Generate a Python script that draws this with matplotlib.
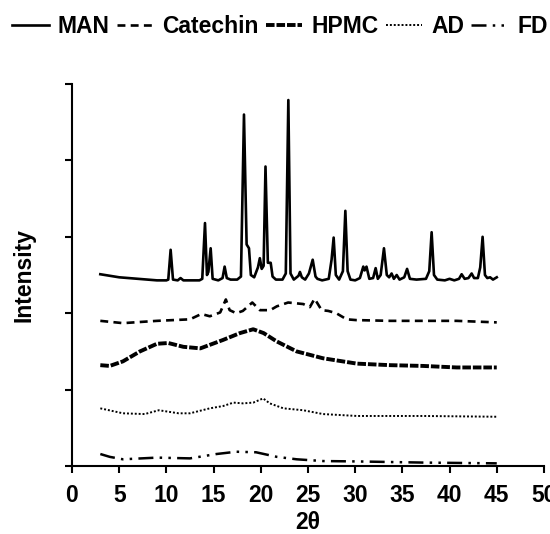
import numpy as np
import matplotlib.pyplot as plt

plt.rcParams['font.family'] = ['Liberation Sans', 'DejaVu Sans']
plt.rcParams['font.weight'] = 'bold'

# 2theta / intensity (arbitrary, stacked)
man_x = [3.0, 4.0, 5.0, 6.0, 7.0, 8.0, 9.0, 10.0, 10.2, 10.45, 10.7, 11.2, 11.5, 11.8,
         12.5, 13.5, 13.8, 14.09, 14.3, 14.45, 14.69, 14.9, 15.5, 15.95, 16.17, 16.4,
         16.8, 17.5, 17.9, 18.22, 18.5, 18.75, 18.95, 19.3, 19.7, 19.9, 20.1, 20.3,
         20.5, 20.75, 21.05, 21.25, 21.6, 22.3, 22.65, 22.92, 23.15, 23.5, 24.0, 24.15,
         24.35, 24.7, 25.1, 25.5, 25.8, 26.0, 26.5, 27.2, 27.5, 27.72, 27.95, 28.3,
         28.7, 28.96, 29.2, 29.5, 30.0, 30.5, 30.86, 31.0, 31.2, 31.5, 31.9, 32.17,
         32.4, 32.7, 33.05, 33.35, 33.6, 33.86, 34.1, 34.4, 34.7, 35.2, 35.5, 35.8,
         36.5, 37.5, 37.85, 38.1, 38.35, 38.7, 39.5, 40.0, 40.5, 41.0, 41.28, 41.6,
         42.0, 42.34, 42.6, 43.0, 43.25, 43.5, 43.75, 44.0, 44.3, 44.6, 45.0]
man_y = [2.51, 2.49, 2.47, 2.46, 2.45, 2.44, 2.43, 2.43, 2.44, 2.83, 2.44, 2.43, 2.46, 2.43,
         2.43, 2.43, 2.45, 3.18, 2.50, 2.54, 2.85, 2.45, 2.43, 2.46, 2.61, 2.46,
         2.44, 2.44, 2.48, 4.60, 2.90, 2.85, 2.50, 2.47, 2.60, 2.72, 2.58, 2.62,
         3.92, 2.66, 2.66, 2.48, 2.44, 2.44, 2.52, 4.79, 2.52, 2.44, 2.49, 2.54,
         2.47, 2.44, 2.52, 2.70, 2.48, 2.45, 2.43, 2.45, 2.70, 2.99, 2.50, 2.44,
         2.55, 3.34, 2.55, 2.44, 2.43, 2.46, 2.61, 2.56, 2.61, 2.45, 2.46, 2.59,
         2.45, 2.50, 2.85, 2.50, 2.47, 2.52, 2.45, 2.50, 2.44, 2.47, 2.58, 2.45,
         2.44, 2.45, 2.55, 3.06, 2.50, 2.44, 2.43, 2.45, 2.43, 2.45, 2.51, 2.45,
         2.46, 2.52, 2.46, 2.46, 2.60, 3.00, 2.50, 2.46, 2.47, 2.44, 2.47]

cat_x = [3.0, 5.4, 9.0, 12.5, 13.7, 14.6, 15.7, 16.3, 16.7, 17.4, 18.1, 19.1, 19.9,
         21.0, 21.7, 22.9, 24.5, 25.2, 25.7, 26.45, 27.15, 28.0, 29.1, 30.1, 33.7,
         37.2, 40.75, 45.0]
cat_y = [1.90, 1.87, 1.90, 1.92, 1.99, 1.96, 2.01, 2.18, 2.04, 2.00, 2.03, 2.14, 2.04,
         2.04, 2.09, 2.14, 2.12, 2.08, 2.19, 2.04, 2.03, 2.00, 1.92, 1.91, 1.90,
         1.90, 1.90, 1.88]

hpmc_x = [3.0, 4.0, 5.4, 7.2, 9.0, 10.2, 11.8, 13.6, 16.0, 17.8, 19.2, 20.3, 21.7,
          23.8, 26.6, 30.2, 33.7, 37.2, 40.75, 45.0]
hpmc_y = [1.32, 1.31, 1.37, 1.50, 1.60, 1.61, 1.56, 1.54, 1.65, 1.74, 1.79, 1.74, 1.63,
          1.50, 1.41, 1.34, 1.32, 1.31, 1.29, 1.29]

ad_x = [3.0, 5.4, 7.7, 9.2, 11.3, 12.5, 14.6, 16.0, 17.1, 18.1, 19.2, 20.25, 20.95,
        22.4, 24.5, 26.6, 30.2, 37.2, 45.0]
ad_y = [0.755, 0.69, 0.68, 0.73, 0.69, 0.69, 0.755, 0.785, 0.83, 0.82, 0.83, 0.885, 0.82,
        0.755, 0.73, 0.68, 0.655, 0.655, 0.645]

fd_x = [3.0, 4.0, 5.4, 9.0, 12.5, 15.3, 17.4, 19.5, 21.7, 23.8, 26.6, 30.2, 37.2, 45.0]
fd_y = [0.157, 0.12, 0.088, 0.11, 0.10, 0.157, 0.187, 0.18, 0.12, 0.088, 0.065, 0.06,
        0.045, 0.035]

fig = plt.figure(figsize=(5.5, 5.34), dpi=100)
ax = fig.add_axes([0.1309, 0.1273, 0.989 - 0.1309, 0.8427 - 0.1273])

ax.plot(man_x, man_y, color='black', lw=1.9, label='MAN')
ax.plot(cat_x, cat_y, color='black', lw=1.9, dashes=(3, 2), label='Catechin')
ax.plot(hpmc_x, hpmc_y, color='black', lw=2.8, dashes=(2.2, 0.5), label='HPMC')
ax.plot(ad_x, ad_y, color='black', lw=1.4, dashes=(1, 1), label='AD')
ax.plot(fd_x, fd_y, color='black', lw=1.8, dashes=(6, 2.5, 1, 2.5, 1, 2.5), label='FD')

ax.set_xlim(0, 50)
ax.set_ylim(0, 5)
ax.set_xticks(np.arange(0, 51, 5))
ax.set_yticks(np.arange(0, 6, 1))
ax.set_yticklabels([])
ax.tick_params(axis='both', direction='out', length=5, width=1.5, labelsize=16.5, pad=8)
for s in ['top', 'right']:
    ax.spines[s].set_visible(False)
for s in ['left', 'bottom']:
    ax.spines[s].set_linewidth(1.5)
for lab in ax.get_xticklabels():
    lab.set_fontweight('bold')

ax.set_xlabel('2θ', fontsize=16.5, fontweight='bold', labelpad=3)
ax.set_ylabel('Intensity', fontsize=16.5, fontweight='bold', labelpad=13)

fig.legend(loc='center left', bbox_to_anchor=(0.022, 0.951), ncol=5, frameon=False,
           prop={'size': 16.5, 'weight': 'bold'}, handlelength=1.6, handletextpad=0.4,
           columnspacing=0.3, borderpad=0, borderaxespad=0)

fig.savefig('out.png', dpi=100)
